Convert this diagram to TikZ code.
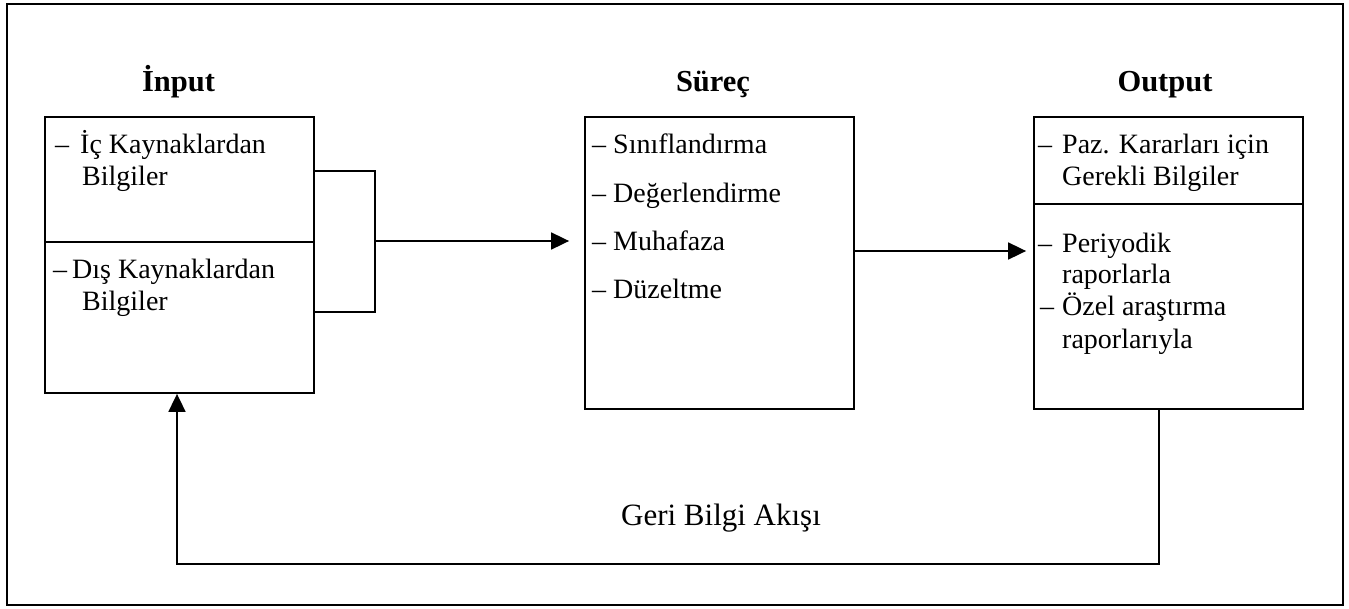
\documentclass[tikz,border=0pt]{standalone}
\usepackage{fontspec}
\setmainfont{Liberation Serif}
\usetikzlibrary{arrows.meta}
\begin{document}
\begin{tikzpicture}[x=1pt,y=-1pt,
  line/.style={line width=1.8pt},
  box/.style={draw, line width=1.8pt, rectangle, minimum width=269pt, inner sep=0pt},
  title/.style={font=\fontsize{30.5}{36}\selectfont\bfseries, anchor=base, inner sep=0pt},
  item/.style={font=\fontsize{28}{32}\selectfont, anchor=base west, inner sep=0pt},
  tip/.style={-{Triangle[length=18pt,width=17pt]}}]
\useasboundingbox (0,0) rectangle (1349,608);
% outer frame
\draw[line] (7,4) rectangle (1343,605);

% boxes
\node[box, minimum height=276pt] (inbox) at (179.5,255) {};
\node[box, minimum height=292pt] (procbox) at (719.5,263) {};
\node[box, minimum height=292pt] (outbox) at (1168.5,263) {};

% dividers
\coordinate (indiv) at (0,242);
\coordinate (outdiv) at (0,204);
\draw[line] (inbox.west |- indiv) -- (inbox.east |- indiv);
\draw[line] (outbox.west |- outdiv) -- (outbox.east |- outdiv);

% titles
\node[title] (tin) at (178.5,91) {İnput};
\node[title] (tproc) at (713,91) {Süreç};
\node[title] (tout) at (1165,91) {Output};

% input items
\node[item] (i1) at (55,153) {\makebox[25pt][l]{–}İç Kaynaklardan};
\node[item] (i1b) at (82,185) {Bilgiler};
\node[item] (i2) at (53,278) {\makebox[19pt][l]{–}Dış Kaynaklardan};
\node[item] (i2b) at (82,310) {Bilgiler};

% process items
\node[item] (p1) at (592,153) {\makebox[21pt][l]{–}Sınıflandırma};
\node[item] (p2) at (592,202) {\makebox[21pt][l]{–}Değerlendirme};
\node[item] (p3) at (592,250) {\makebox[21pt][l]{–}Muhafaza};
\node[item] (p4) at (592,298) {\makebox[21pt][l]{–}Düzeltme};

% output items
\node[item] (o1) at (1038,153) {\makebox[24pt][l]{–}Paz. Kararları için};
\node[item] (o1b) at (1062,185) {Gerekli Bilgiler};
\node[item] (o2) at (1038,252) {\makebox[24pt][l]{–}Periyodik};
\node[item] (o2b) at (1062,283) {raporlarla};
\node[item] (o3) at (1040,315) {\makebox[22pt][l]{–}Özel araştırma};
\node[item] (o3b) at (1062,348) {raporlarıyla};

% bracket joining both input sources
\coordinate (brtop) at (375,171);
\coordinate (brbot) at (375,312);
\coordinate (brmid) at (375,241);
\draw[line] (inbox.east |- brtop) -- (brtop) -- (brbot) -- (inbox.east |- brbot);
\draw[line, tip] (brmid) -- ([xshift=-15pt]procbox.west |- brmid);

% process to output
\coordinate (pomid) at (0,251);
\draw[line, tip] (procbox.east |- pomid) -- ([xshift=-7pt]outbox.west |- pomid);

% feedback loop
\coordinate (fbr) at (1159,564);
\coordinate (fbl) at (177,564);
\draw[line, tip] (outbox.south -| fbr) -- (fbr) -- (fbl) -- (inbox.south -| fbl);
\node[font=\fontsize{31}{36}\selectfont, anchor=base, inner sep=0pt] (fblabel) at (721,525) {Geri Bilgi Akışı};
\end{tikzpicture}
\end{document}
